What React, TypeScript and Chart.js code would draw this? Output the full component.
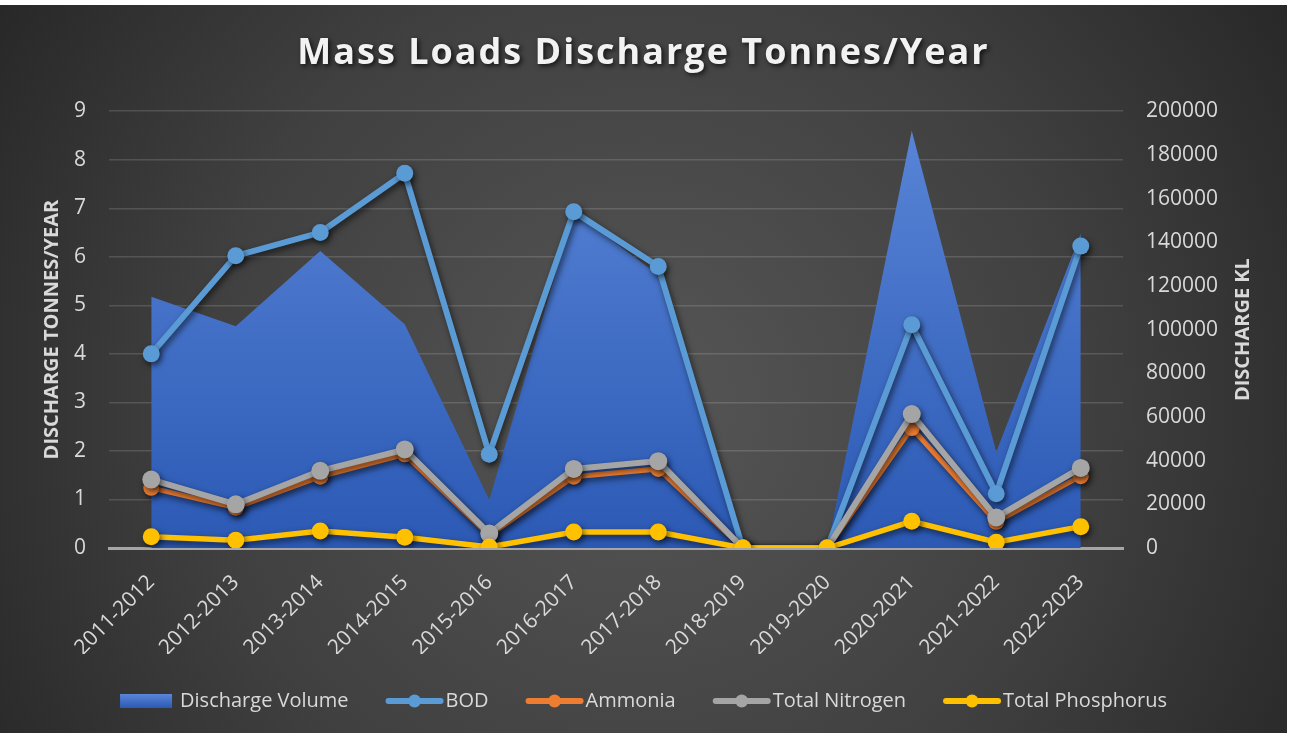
import React, { useEffect, useRef } from 'react';
import { Chart, registerables } from 'chart.js';

Chart.register(...registerables);

const categories = [
  '2011-2012', '2012-2013', '2013-2014', '2014-2015', '2015-2016', '2016-2017',
  '2017-2018', '2018-2019', '2019-2020', '2020-2021', '2021-2022', '2022-2023',
];
const dischargeVolume = [115000, 101500, 136000, 102500, 22000, 154000, 125000, 0, 0, 191000, 44000, 144000];
const bod = [4.0, 6.02, 6.5, 7.72, 1.93, 6.93, 5.8, 0, 0, 4.6, 1.12, 6.22];
const ammonia = [1.24, 0.83, 1.47, 1.93, 0.26, 1.47, 1.63, 0, 0, 2.47, 0.54, 1.48];
const totalNitrogen = [1.41, 0.9, 1.59, 2.03, 0.3, 1.63, 1.79, 0, 0, 2.76, 0.63, 1.65];
const totalPhosphorus = [0.23, 0.16, 0.35, 0.22, 0.02, 0.33, 0.33, 0, 0, 0.55, 0.12, 0.44];

const titleText = 'Mass Loads Discharge Tonnes/Year';
const leftAxisTitle = 'DISCHARGE TONNES/YEAR';
const rightAxisTitle = 'DISCHARGE KL';
const seriesNames = ['Discharge Volume', 'BOD', 'Ammonia', 'Total Nitrogen', 'Total Phosphorus'];
const seriesColors = ['#4472c4', '#5b9bd5', '#ed7d31', '#a5a5a5', '#ffc000'];

const FONT = "'Open Sans', 'DejaVu Sans', sans-serif";
const TEXT = '#d9d9d9';

function areaGradient(ctx: CanvasRenderingContext2D, top: number, bottom: number) {
  const g = ctx.createLinearGradient(0, top, 0, bottom);
  g.addColorStop(0, '#5a86d8');
  g.addColorStop(1, '#2b59b4');
  return g;
}

const backgroundPlugin = {
  id: 'bgPlugin',
  beforeDraw(chart: any) {
    const { ctx, width, height } = chart;
    ctx.save();
    const g = ctx.createRadialGradient(width / 2, height * 0.55, 0, width / 2, height * 0.55, width * 0.62);
    g.addColorStop(0, '#565656');
    g.addColorStop(0.55, '#404040');
    g.addColorStop(1, '#252525');
    ctx.fillStyle = g;
    ctx.fillRect(0, 0, width, height);
    ctx.restore();
  },
};

const shadowPlugin = {
  id: 'shadowPlugin',
  beforeDatasetDraw(chart: any, args: any) {
    const ctx = chart.ctx;
    ctx.save();
    if (args.index === 0) {
      ctx.shadowColor = 'rgba(0,0,0,0.35)';
      ctx.shadowBlur = 6;
      ctx.shadowOffsetX = 2;
      ctx.shadowOffsetY = 2;
    } else {
      ctx.shadowColor = 'rgba(0,0,0,0.6)';
      ctx.shadowBlur = 6;
      ctx.shadowOffsetX = 2;
      ctx.shadowOffsetY = 3;
    }
  },
  afterDatasetDraw(chart: any) {
    chart.ctx.restore();
  },
};

const titleStylePlugin = {
  id: 'titleStyle',
  afterInit(chart: any) {
    const tb = chart.titleBlock;
    if (tb && !tb.__wrapped) {
      const orig = tb.draw.bind(tb);
      tb.draw = (...a: any[]) => {
        const c = chart.ctx;
        c.save();
        try { (c as any).letterSpacing = '2px'; } catch (e) {}
        c.shadowColor = 'rgba(0,0,0,0.75)';
        c.shadowBlur = 5;
        c.shadowOffsetX = 2;
        c.shadowOffsetY = 2;
        orig(...a);
        c.restore();
      };
      tb.__wrapped = true;
    }
  },
};

const extrasPlugin = {
  id: 'extras',
  afterDraw(chart: any) {
    const ctx = chart.ctx;
    // right axis title
    const y1 = chart.scales.y1;
    ctx.save();
    ctx.translate(1243, (y1.top + y1.bottom) / 2);
    ctx.rotate(-Math.PI / 2);
    ctx.font = `bold 20px ${FONT}`;
    ctx.fillStyle = TEXT;
    ctx.textAlign = 'center';
    ctx.textBaseline = 'middle';
    ctx.fillText(rightAxisTitle, 0, 0);
    ctx.restore();

    // legend symbols
    const legend = chart.legend;
    if (!legend || !legend.legendHitBoxes) return;
    legend.legendHitBoxes.forEach((hb: any, i: number) => {
      const item = legend.legendItems[i];
      const di = item ? item.datasetIndex : i;
      const cy = hb.top + hb.height / 2;
      const x = hb.left;
      ctx.save();
      if (di === 0) {
        ctx.fillStyle = areaGradient(ctx, cy - 7, cy + 7);
        ctx.fillRect(x, cy - 7, 52, 14);
      } else {
        ctx.strokeStyle = seriesColors[di];
        ctx.lineWidth = 6;
        ctx.lineCap = 'round';
        ctx.beginPath();
        ctx.moveTo(x + 3, cy);
        ctx.lineTo(x + 55, cy);
        ctx.stroke();
        ctx.fillStyle = seriesColors[di];
        ctx.beginPath();
        ctx.arc(x + 29, cy, 6.5, 0, Math.PI * 2);
        ctx.fill();
      }
      ctx.restore();
    });
  },
};

function lineDataset(label: string, data: number[], color: string, order: number, width: number, radius: number) {
  return {
    type: 'line' as const,
    label,
    data,
    yAxisID: 'y',
    borderColor: color,
    backgroundColor: color,
    borderWidth: width,
    pointRadius: radius,
    pointHoverRadius: radius,
    pointBackgroundColor: color,
    pointBorderColor: color,
    pointBorderWidth: 0,
    tension: 0,
    fill: false,
    order,
  };
}

export default function App() {
  const canvasRef = useRef<HTMLCanvasElement | null>(null);

  useEffect(() => {
    if (!canvasRef.current) return;
    const chart = new Chart(canvasRef.current, {
      type: 'line',
      data: {
        labels: categories,
        datasets: [
          {
            type: 'line',
            label: seriesNames[0],
            data: dischargeVolume,
            yAxisID: 'y1',
            borderWidth: 0,
            borderColor: 'rgba(0,0,0,0)',
            pointRadius: 0,
            pointHoverRadius: 0,
            tension: 0,
            fill: 'origin',
            backgroundColor: (c: any) => {
              const ca = c.chart.chartArea;
              if (!ca) return seriesColors[0];
              return areaGradient(c.chart.ctx, ca.top, ca.bottom);
            },
            order: 5,
          } as any,
          lineDataset(seriesNames[1], bod, seriesColors[1], 4, 6, 8.5),
          lineDataset(seriesNames[2], ammonia, seriesColors[2], 3, 5, 8),
          lineDataset(seriesNames[3], totalNitrogen, seriesColors[3], 2, 6, 9),
          lineDataset(seriesNames[4], totalPhosphorus, seriesColors[4], 1, 5.5, 8.5),
        ],
      },
      options: {
        animation: false,
        responsive: true,
        maintainAspectRatio: false,
        layout: { padding: { left: 0, right: 0, top: 0, bottom: 12 } },
        plugins: {
          tooltip: { enabled: false },
          title: {
            display: true,
            text: titleText,
            color: '#f2f2f2',
            font: { family: FONT, size: 36, weight: 'bold' },
            padding: { top: 27, bottom: 36 },
          },
          legend: {
            display: true,
            position: 'bottom',
            labels: {
              color: TEXT,
              font: { family: FONT, size: 20 },
              boxWidth: 50,
              boxHeight: 14,
              padding: 37,
              sort: (a: any, b: any) => a.datasetIndex - b.datasetIndex,
              generateLabels: (ch: any) => {
                const items = Chart.defaults.plugins.legend.labels.generateLabels(ch);
                return items
                  .map((it: any) => ({
                    ...it,
                    fillStyle: 'rgba(0,0,0,0)',
                    strokeStyle: 'rgba(0,0,0,0)',
                    lineWidth: 0,
                    fontColor: TEXT,
                  }))
                  .sort((a: any, b: any) => a.datasetIndex - b.datasetIndex);
              },
            },
          },
        },
        scales: {
          x: {
            type: 'category',
            offset: true,
            grid: { display: false, drawTicks: false },
            border: { display: true, color: '#a6a6a6', width: 3 },
            ticks: {
              color: TEXT,
              font: { family: FONT, size: 21 },
              minRotation: 45,
              maxRotation: 45,
              autoSkip: false,
              padding: 22,
            },
            afterFit: (s: any) => { s.height = 106; },
          },
          y: {
            type: 'linear',
            position: 'left',
            min: 0,
            max: 9,
            ticks: {
              stepSize: 1,
              color: TEXT,
              font: { family: FONT, size: 21 },
              padding: 23,
            },
            grid: { color: 'rgba(255,255,255,0.14)', lineWidth: 1.5, drawTicks: false },
            border: { display: false },
            title: {
              display: true,
              text: leftAxisTitle,
              color: TEXT,
              font: { family: FONT, size: 20, weight: 'bold' },
              padding: { top: 40, bottom: 0 },
            },
            afterFit: (s: any) => { s.width = 109; },
          },
          y1: {
            type: 'linear',
            position: 'right',
            min: 0,
            max: 200000,
            ticks: {
              stepSize: 20000,
              color: TEXT,
              font: { family: FONT, size: 21 },
              padding: 23,
              callback: (v: any) => String(v),
            },
            grid: { display: false, drawTicks: false },
            border: { display: false },
            title: { display: false, text: rightAxisTitle },
            afterFit: (s: any) => { s.width = 164; },
          },
        },
      },
      plugins: [backgroundPlugin, shadowPlugin, titleStylePlugin, extrasPlugin],
    } as any);
    return () => chart.destroy();
  }, []);

  return (
    <div style={{ position: 'fixed', left: 0, top: 5, width: 1287, height: 728 }}>
      <canvas ref={canvasRef} />
    </div>
  );
}
